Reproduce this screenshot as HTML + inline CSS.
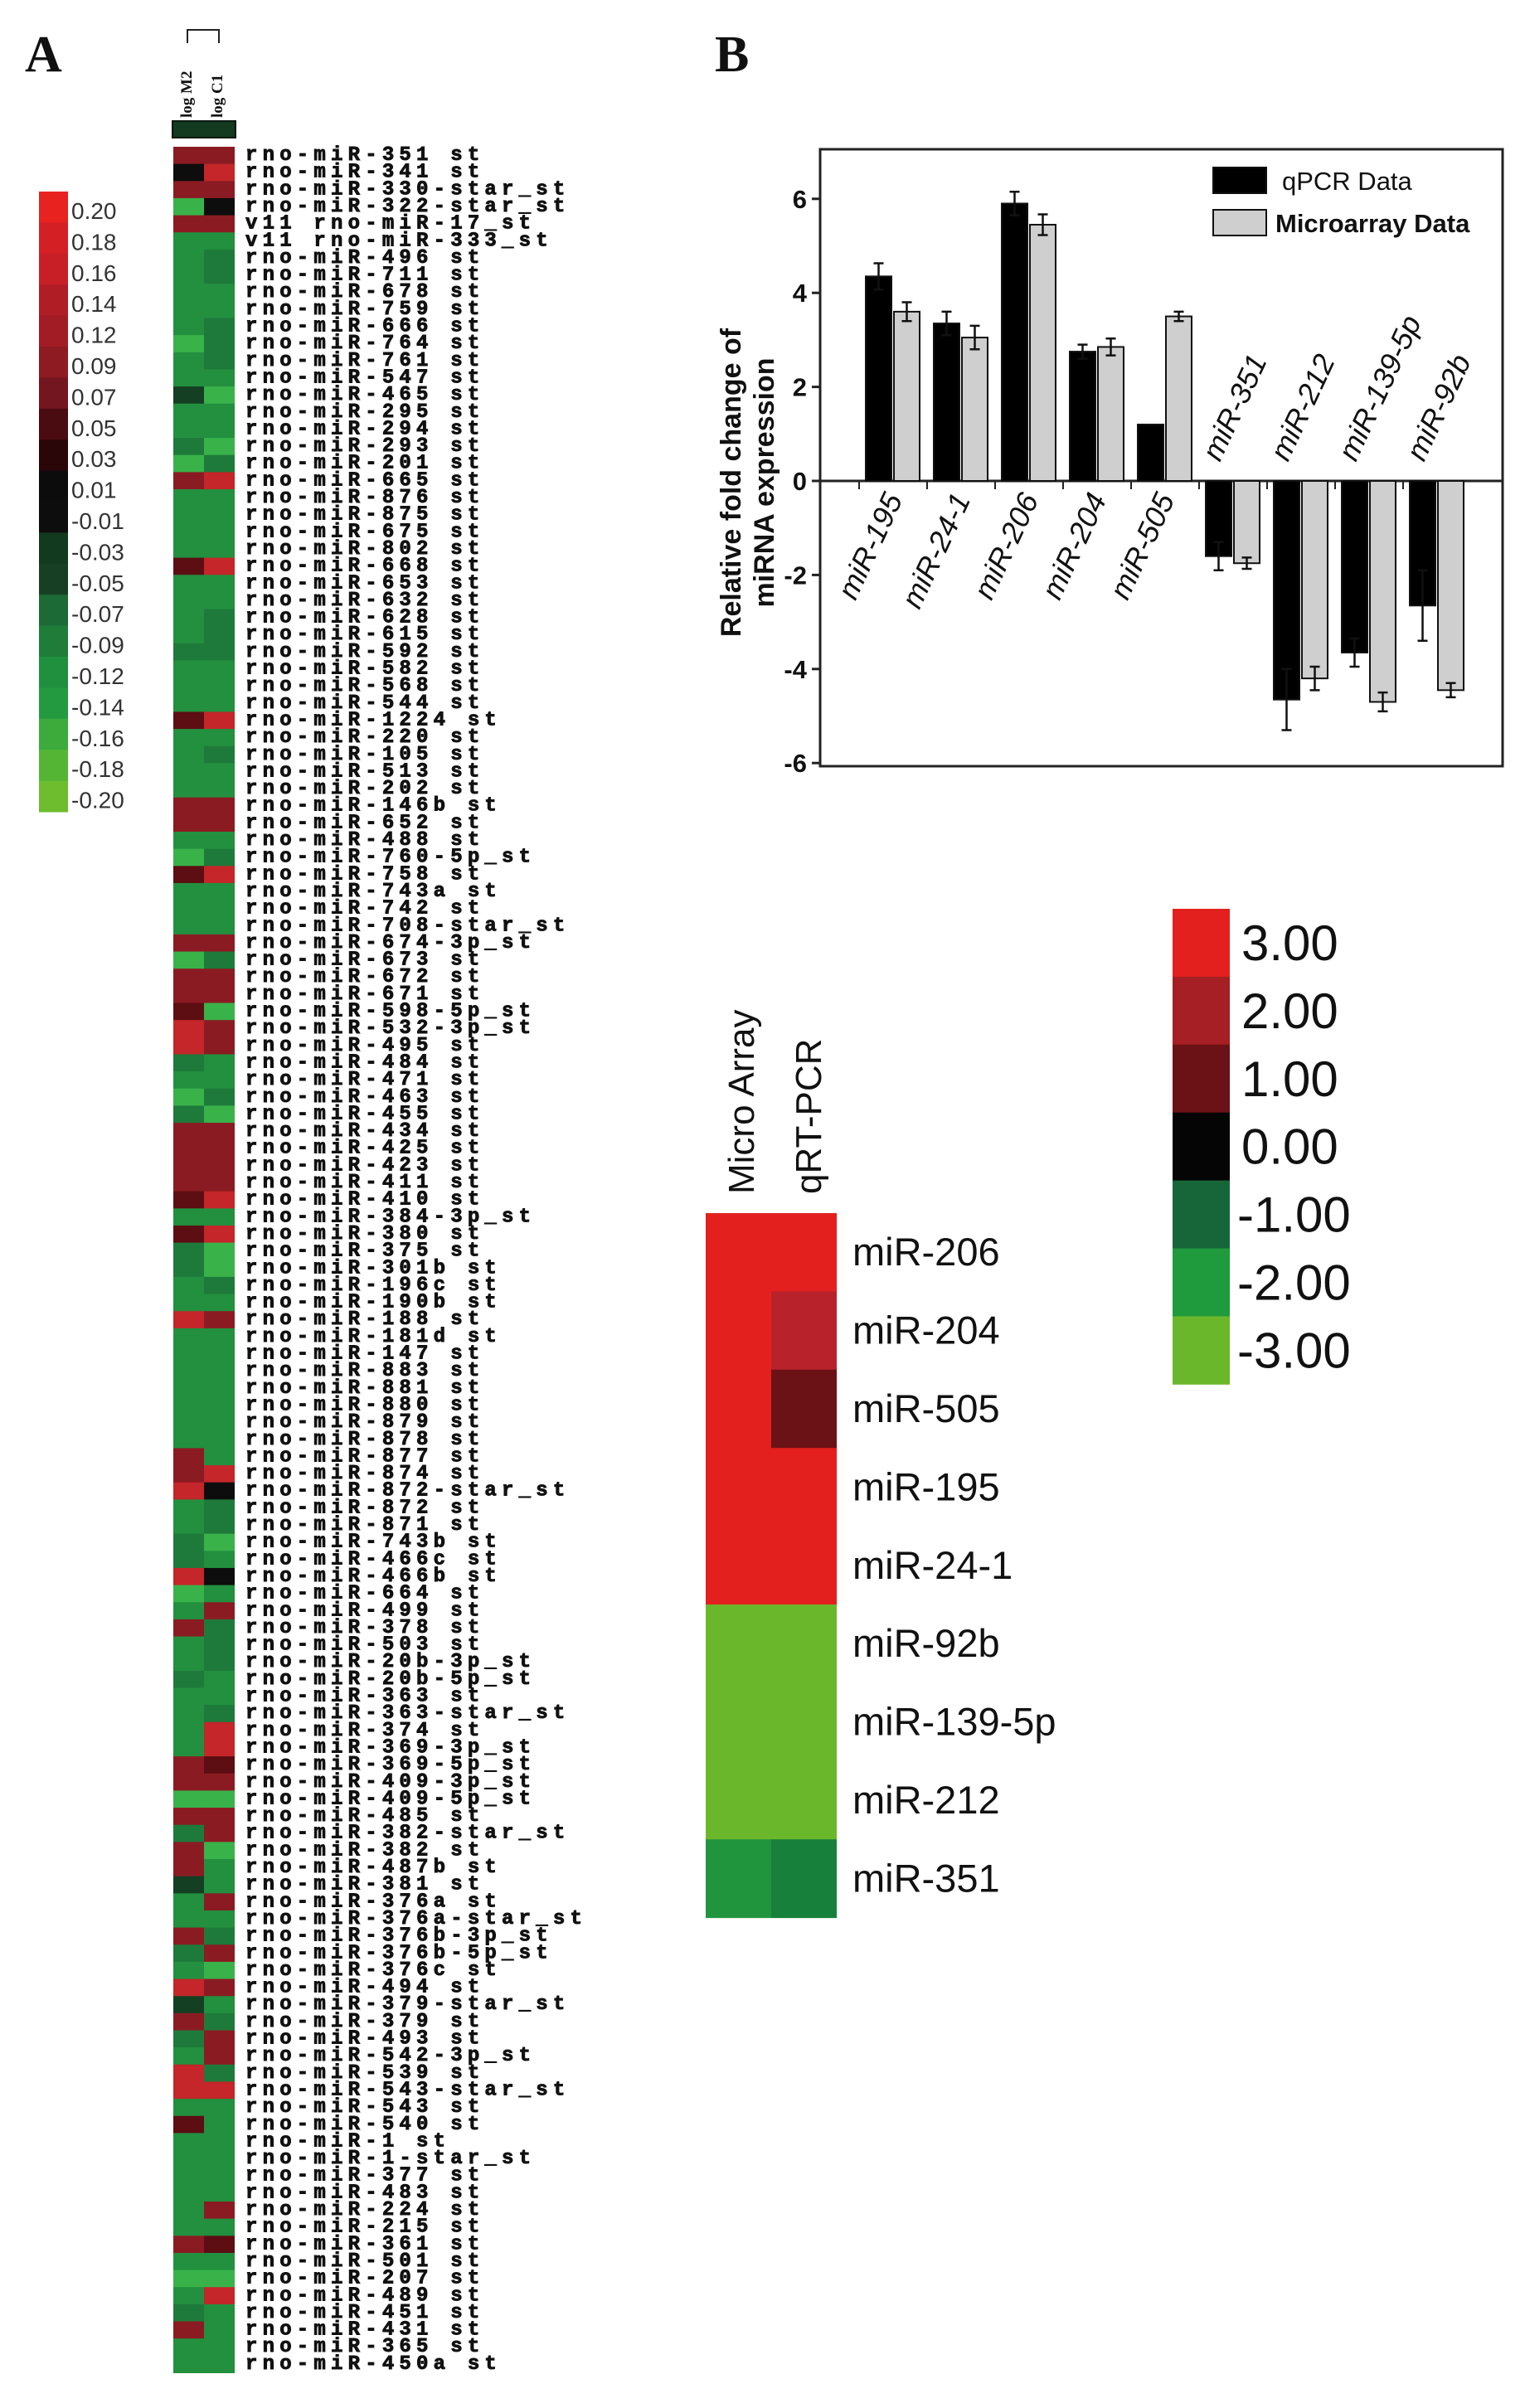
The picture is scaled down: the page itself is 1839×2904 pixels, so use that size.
<!DOCTYPE html>
<html><head><meta charset="utf-8"><style>
html,body{margin:0;padding:0;background:#fff}
svg{display:block}
.mono{font-family:"Liberation Mono",monospace;font-weight:bold}
.sans{font-family:"Liberation Sans",Arial,sans-serif}
.serif{font-family:"Liberation Serif",serif}
</style></head><body>
<svg id="fig" xmlns="http://www.w3.org/2000/svg" width="1839" height="2904" viewBox="0 0 1839 2904">
<rect width="1839" height="2904" fill="#fff"/>
<text x="30" y="86" class="serif" font-size="62" font-weight="bold" fill="#111">A</text>
<text x="862" y="86" class="serif" font-size="62" font-weight="bold" fill="#111">B</text>
<g id="gA"></g>
<g id="gLegA"></g>
<g id="gBar"></g>
<g id="gHm"></g>
<g id="gLegB"></g>
</svg>
<script>
// ---------- Panel A data ----------
const rowNames=["351","341","330-star","322-star","v11 17","v11 333","496","711","678","759","666","764","761","547","465","295","294","293","201","665","876","875","675","802","668","653","632","628","615","592","582","568","544","1224","220","105","513","202","146b","652","488","760-5p","758","743a","742","708-star","674-3p","673","672","671","598-5p","532-3p","495","484","471","463","455","434","425","423","411","410","384-3p","380","375","301b","196c","190b","188","181d","147","883","881","880","879","878","877","874","872-star","872","871","743b","466c","466b","664","499","378","503","20b-3p","20b-5p","363","363-star","374","369-3p","369-5p","409-3p","409-5p","485","382-star","382","487b","381","376a","376a-star","376b-3p","376b-5p","376c","494","379-star","379","493","542-3p","539","543-star","543","540","1","1-star","377","483","224","215","361","501","207","489","451","431","365","450a"];
const colM2="DKDLDGGGGGGLGGNGGgLDGGGGVGGGGgGGGVGGGGDDGLVGGGDLDDVRRgGLgDDDDVGVggGGRGGGGGGGDDRGGggRLGDGGgGGGGDDLDgDDNGGDgGRNDgGRRGVGGGGGGDGLGgDGG";
const colC1="DRDKDGggGGgggGLGGLgRGGGGRGGgggGGGRGgGGDDGgRGGGDgDDLDDGGgLDDDDRGRLLgGDGGGGGGGGRKggLGKGDgggGGgRRVDLDDLGGDGgDLDGgDDgRGGGGGGDGVGLRGG";
const legAVals=["0.20","0.18","0.16","0.14","0.12","0.09","0.07","0.05","0.03","0.01","-0.01","-0.03","-0.05","-0.07","-0.09","-0.12","-0.14","-0.16","-0.18","-0.20"];
const legAColors=["#e8221f","#d41f25","#c81f27","#b01d25","#a11c24","#8e1a22","#741620","#4a0c10","#2a0608","#0c0c0c","#0d0d0d","#123a1f","#173f24","#1c6a36","#1f7d39","#20903e","#239a3f","#3cab3c","#54b535","#6dbd2f"];
const cmap={R:"#c42629",D:"#8b1b22",V:"#5c0e12",K:"#0d0d0d",G:"#22903f",g:"#1e7a3a",L:"#39b24a",N:"#143f22"};
// ---------- Panel B bar data ----------
const cats=["miR-195","miR-24-1","miR-206","miR-204","miR-505","miR-351","miR-212","miR-139-5p","miR-92b"];
const qpcr=[4.35,3.35,5.9,2.75,1.2,-1.6,-4.65,-3.65,-2.65];
const qpcrErr=[0.28,0.25,0.25,0.15,0,0.3,0.65,0.3,0.75];
const micro=[3.6,3.05,5.45,2.85,3.5,-1.75,-4.2,-4.7,-4.45];
const microErr=[0.2,0.25,0.22,0.18,0.1,0.12,0.25,0.2,0.15];
const yTicks=[6,4,2,0,-2,-4,-6];
// ---------- Panel B heatmap data ----------
const hmRows=["miR-206","miR-204","miR-505","miR-195","miR-24-1","miR-92b","miR-139-5p","miR-212","miR-351"];
const hmMicro=[3,3,3,3,3,-3,-3,-3,-2];
const hmQrt=[3,2,1,3,3,-3,-3,-3,-1.5];
const legBVals=["3.00","2.00","1.00","0.00","-1.00","-2.00","-3.00"];
const legBColors=["#e3201e","#a51f24","#6b1216","#050505","#17663a","#1f9a3d","#6bb72c"];

const NS="http://www.w3.org/2000/svg";
function mk(tag,attrs,parent,txt){const e=document.createElementNS(NS,tag);for(const k in attrs)e.setAttribute(k,attrs[k]);if(txt!==undefined)e.textContent=txt;parent.appendChild(e);return e;}

// ----- Panel A heatmap -----
const gA=document.getElementById('gA');
const hTop=177,rowH=20.65,c1x=209,cw=37;
function rowY(i){return hTop+i*rowH;}
let hb=mk('rect',{x:208,y:146,width:76,height:20,fill:"#143a20",stroke:"#0a1a0f","stroke-width":2},gA);

let br=mk('path',{d:"M226 52 V36 H264 V52",fill:"none",stroke:"#222","stroke-width":2},gA);

let t1=mk('text',{x:0,y:0,transform:"translate(231,142) rotate(-90)","font-size":19,class:"serif","font-weight":"bold",fill:"#111"},gA,"log M2");

let t2=mk('text',{x:0,y:0,transform:"translate(268,142) rotate(-90)","font-size":19,class:"serif","font-weight":"bold",fill:"#111"},gA,"log C1");

rowNames.forEach((n,i)=>{
  const y=rowY(i);
  const a=mk('rect',{x:c1x,y:y,width:cw+0.5,height:rowH+0.5,fill:cmap[colM2[i]]||cmap.G},gA);
  
  const b=mk('rect',{x:c1x+cw,y:y,width:cw,height:rowH+0.5,fill:cmap[colC1[i]]||cmap.G},gA);
  
  let label;
  if(n.startsWith("v11 ")) label="v11 rno-miR-"+n.slice(4)+"_st";
  else label="rno-miR-"+n+(n.indexOf('-')>=0?"_st":" st");
  const t=mk('text',{x:296,y:y+16,"font-size":24,"letter-spacing":"6.2",class:"mono",fill:"#111",stroke:"#111","stroke-width":"0.9"},gA,label);
  
});

// ----- Panel A legend -----
const gL=document.getElementById('gLegA');
const lTop=231,lH=37.4;
legAVals.forEach((v,i)=>{
  const r=mk('rect',{x:47,y:lTop+i*lH,width:35,height:lH+0.5,fill:legAColors[i]},gL);
  
  const t=mk('text',{x:86,y:lTop+i*lH+33,"font-size":28,class:"sans",fill:"#333"},gL,v);
  
});

// ----- Bar chart -----
const gB=document.getElementById('gBar');
const axL=989,axR=1812,axT=180,axB=924;
const yZero=580,perUnit=56.7;
function yS(v){return yZero-v*perUnit;}
const gx0=1044,gStep=82,bw=31;
function xQ(i){return gx0+i*gStep;}
function xM(i){return gx0+i*gStep+bw+3;}
let fr=mk('rect',{x:axL,y:axT,width:axR-axL,height:axB-axT,fill:"none",stroke:"#222","stroke-width":3},gB);

yTicks.forEach(v=>{
  const y=yS(v);
  const l=mk('line',{x1:axL-10,x2:axL,y1:y,y2:y,stroke:"#222","stroke-width":3},gB);
  
  const t=mk('text',{x:axL-16,y:y+11,"text-anchor":"end","font-size":31,"font-weight":"bold",class:"sans",fill:"#111"},gB,String(v));
  
});
let zl=mk('line',{x1:axL,x2:axR,y1:yS(0),y2:yS(0),stroke:"#222","stroke-width":3},gB);

cats.forEach((c,i)=>{
  const tk=mk('line',{x1:xQ(i)-8,x2:xQ(i)-8,y1:yS(0),y2:yS(0)+10,stroke:"#222","stroke-width":2},gB);
  
  [[qpcr,qpcrErr,xQ(i),"#000","bar-qpcr"],[micro,microErr,xM(i),"#cfcfcf","bar-microarray"]].forEach(([arr,err,x,fill,nm])=>{
    const v=arr[i],y0=yS(0),y1=yS(v);
    const r=mk('rect',{x:x,y:Math.min(y0,y1),width:bw,height:Math.abs(y1-y0),fill:fill,stroke:"#111","stroke-width":2},gB);
    
    if(err[i]>0){
      const cx=x+bw/2,ya=yS(v+err[i]),yb=yS(v-err[i]);
      const e=mk('path',{d:`M${cx} ${ya} V${yb} M${cx-6} ${ya} H${cx+6} M${cx-6} ${yb} H${cx+6}`,stroke:"#111","stroke-width":2.5,fill:"none"},gB);
      
    }
  });
  const cx=xQ(i)+bw;
  let t;
  if(qpcr[i]>=0){
    t=mk('text',{x:0,y:0,transform:`translate(${cx+14},${yS(0)+22}) rotate(-65)`,"text-anchor":"end","font-size":36,"font-style":"italic",class:"sans",fill:"#111"},gB,c);
  }else{
    t=mk('text',{x:0,y:0,transform:`translate(${cx-14},${yS(0)-22}) rotate(-65)`,"text-anchor":"start","font-size":36,"font-style":"italic",class:"sans",fill:"#111"},gB,c);
  }
  
});
let yt=mk('text',{x:0,y:0,transform:"translate(893,582) rotate(-90)","text-anchor":"middle","font-size":34,"font-weight":"bold",class:"sans",fill:"#111"},gB,"Relative fold change of");

let yt2=mk('text',{x:0,y:0,transform:"translate(933,582) rotate(-90)","text-anchor":"middle","font-size":34,"font-weight":"bold",class:"sans",fill:"#111"},gB,"miRNA expression");

let lg1=mk('rect',{x:1463,y:202,width:64,height:31,fill:"#000",stroke:"#111","stroke-width":2},gB);

let lt1=mk('text',{x:1546,y:229,"font-size":31,class:"sans",fill:"#111"},gB,"qPCR Data");

let lg2=mk('rect',{x:1463,y:253,width:64,height:31,fill:"#cfcfcf",stroke:"#111","stroke-width":2},gB);

let lt2=mk('text',{x:1538,y:280,"font-size":31,"font-weight":"bold",class:"sans",fill:"#111"},gB,"Microarray Data");


// ----- Validation heatmap -----
const gH=document.getElementById('gHm');
const hx=851,hw=79,hy=1463,hh=94.4;
function heatColor(v){const idx=Math.max(0,Math.min(6,Math.round(3-v)));return legBColors[idx];}
let h1=mk('text',{x:0,y:0,transform:"translate(909,1440) rotate(-90)","font-size":44,class:"sans",fill:"#111"},gH,"Micro Array");

let h2=mk('text',{x:0,y:0,transform:"translate(990,1440) rotate(-90)","font-size":44,class:"sans",fill:"#111"},gH,"qRT-PCR");

hmRows.forEach((r,i)=>{
  const y=hy+i*hh;
  let a=mk('rect',{x:hx,y:y,width:hw+0.5,height:hh+0.5,fill:(hmMicro[i]===-2?"#21953e":heatColor(hmMicro[i]))},gH);
  
  let qc=hmQrt[i]===2?"#b8222a":(hmQrt[i]===-1.5?"#17803a":heatColor(hmQrt[i]));
  let b=mk('rect',{x:hx+hw,y:y,width:hw,height:hh+0.5,fill:qc},gH);
  
  let t=mk('text',{x:1028,y:y+hh/2+16,"font-size":47,class:"sans",fill:"#111"},gH,r);
  
});
// ----- Validation legend -----
const gLB=document.getElementById('gLegB');
const lbTop=1096,lbH=81.9;
legBVals.forEach((v,i)=>{
  const r=mk('rect',{x:1414,y:lbTop+i*lbH,width:69,height:lbH+0.5,fill:legBColors[i]},gLB);
  
  const t=mk('text',{x:(v[0]==='-'?1492:1497),y:lbTop+i*lbH+62,"font-size":60,class:"sans",fill:"#111"},gLB,v);
  
});
</script>
</body></html>
